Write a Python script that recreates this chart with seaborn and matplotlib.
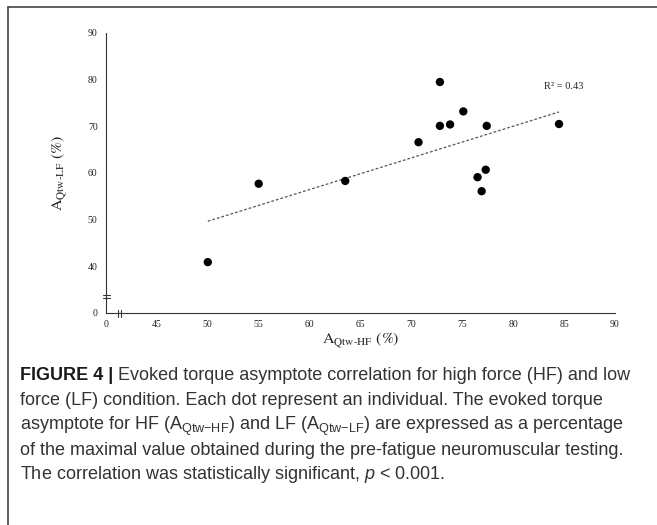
import numpy as np
import matplotlib
matplotlib.use('Agg')
import matplotlib.pyplot as plt
from matplotlib.lines import Line2D
import seaborn as sns

# valores (A_Qtw-HF x A_Qtw-LF, em %)
a_hf = [50.0, 55.0, 63.5, 70.7, 72.8, 72.8, 73.8, 75.1, 77.4, 77.3, 76.5, 76.9, 84.5]
a_lf = [40.9, 57.7, 58.3, 66.6, 79.5, 70.1, 70.4, 73.2, 70.1, 60.7, 59.1, 56.1, 70.5]
x_ticks = [0, 45, 50, 55, 60, 65, 70, 75, 80, 85, 90]
y_ticks = [0, 40, 50, 60, 70, 80, 90]
r2_text = 'R² = 0.43'

sns.set_style('white')
plt.rcParams['font.family'] = ['Liberation Serif', 'DejaVu Serif']
plt.rcParams['mathtext.fontset'] = 'custom'
plt.rcParams['mathtext.rm'] = 'Liberation Sans'
plt.rcParams['mathtext.it'] = 'Liberation Sans:italic'
plt.rcParams['mathtext.bf'] = 'Liberation Sans:bold'

fig = plt.figure(figsize=(6.57, 5.25), dpi=100)
ax = fig.add_axes([106 / 657, 1 - 313 / 525, (615 - 106) / 657, (313 - 33) / 525])

# eixos com quebra: 0 -> 45 e 0 -> 40 ocupam um so intervalo
def fx(v):
    return np.interp(v, [0, 45, 90], [0, 1, 10])

def fx_inv(p):
    return np.interp(p, [0, 1, 10], [0, 45, 90])

def fy(v):
    return np.interp(v, [0, 40, 90], [0, 1, 6])

def fy_inv(p):
    return np.interp(p, [0, 1, 6], [0, 40, 90])

ax.set_xscale('function', functions=(fx, fx_inv))
ax.set_yscale('function', functions=(fy, fy_inv))

sns.regplot(x=a_hf, y=a_lf, ax=ax, ci=None,
            scatter_kws=dict(s=36, color='black', edgecolor='none', alpha=1, zorder=3),
            line_kws=dict(color='#555555', lw=0.9, linestyle=(0, (2.2, 1.6))))

ax.set_xlim(0, 90)
ax.set_ylim(0, 90)
ax.set_xticks(x_ticks)
ax.set_xticklabels([str(t) for t in x_ticks])
ax.set_yticks(y_ticks)
ax.set_yticklabels([str(t) for t in y_ticks])
ax.minorticks_off()
for s in ['top', 'right']:
    ax.spines[s].set_visible(False)
for s in ['left', 'bottom']:
    ax.spines[s].set_color('#333333')
    ax.spines[s].set_linewidth(0.8)
ax.tick_params(axis='x', direction='in', length=3, width=0.8, color='#333333',
               labelsize=7, pad=5, labelcolor='#222222')
ax.tick_params(axis='y', direction='out', length=3, width=0.8, color='#333333',
               labelsize=7, pad=3, labelcolor='#222222')

ax.set_xlabel(r'$\mathrm{A}_{\mathrm{Qtw\text{-}HF}}\ (\%)$', fontsize=11.5,
              math_fontfamily='stix', labelpad=1, color='#222222')
ax.set_ylabel(r'$\mathrm{A}_{\mathrm{Qtw\text{-}LF}}\ (\%)$', fontsize=11.5,
              math_fontfamily='stix', labelpad=13, color='#222222')

ax.text(83.0, 78.6, r2_text, fontsize=7.5, va='center', ha='left', color='#222222')

# marcas de quebra nos eixos
def axes_pt(x, y):
    return ax.transAxes.inverted().transform(ax.transData.transform((x, y)))

bx, by = axes_pt(0, 14.4)
dx = 3.5 / ax.bbox.width
dy = 1.6 / ax.bbox.height
for off in (-dy, dy):
    ax.add_line(Line2D([bx - dx, bx + dx], [by + off, by + off], transform=ax.transAxes,
                       color='#333333', lw=0.8, clip_on=False))
cx, cy = axes_pt(12.2, 0)
dx2 = 1.6 / ax.bbox.width
dy2 = 3.5 / ax.bbox.height
for off in (-dx2, dx2):
    ax.add_line(Line2D([cx + off, cx + off], [cy - dy2, cy + dy2], transform=ax.transAxes,
                       color='#333333', lw=0.8, clip_on=False))

# moldura
fig.add_artist(Line2D([8 / 657, 8 / 657], [0, 1 - 7 / 525], transform=fig.transFigure,
                      color='#444444', lw=1.2))
fig.add_artist(Line2D([8 / 657, 1], [1 - 7 / 525, 1 - 7 / 525], transform=fig.transFigure,
                      color='#444444', lw=1.2))

# legenda da figura
cap_kw = dict(family=['Liberation Sans', 'DejaVu Sans'], fontsize=13, color='#333333')
x0 = 20 / 657
y_lines = [380, 405, 430, 455, 479]
t0 = fig.text(x0, 1 - y_lines[0] / 525, 'FIGURE 4 |', fontweight='bold', va='baseline',
              family=['Liberation Sans', 'DejaVu Sans'], fontsize=13, color='#1a1a1a')
fig.canvas.draw()
bb = t0.get_window_extent()
fig.text(bb.x1 / fig.bbox.width, 1 - y_lines[0] / 525,
         ' Evoked torque asymptote correlation for high force (HF) and low', va='baseline', **cap_kw)
linhas = [
    'force (LF) condition. Each dot represent an individual. The evoked torque',
    r'asymptote for HF (A$_{\mathregular{Qtw{-}HF}}$) and LF (A$_{\mathregular{Qtw{-}LF}}$) are expressed as a percentage',
    'of the maximal value obtained during the pre-fatigue neuromuscular testing.',
    r'The correlation was statistically significant, $p$ < 0.001.',
]
for yy, txt in zip(y_lines[1:], linhas):
    fig.text(x0, 1 - yy / 525, txt, va='baseline', **cap_kw)

plt.savefig('out.png', dpi=100)
